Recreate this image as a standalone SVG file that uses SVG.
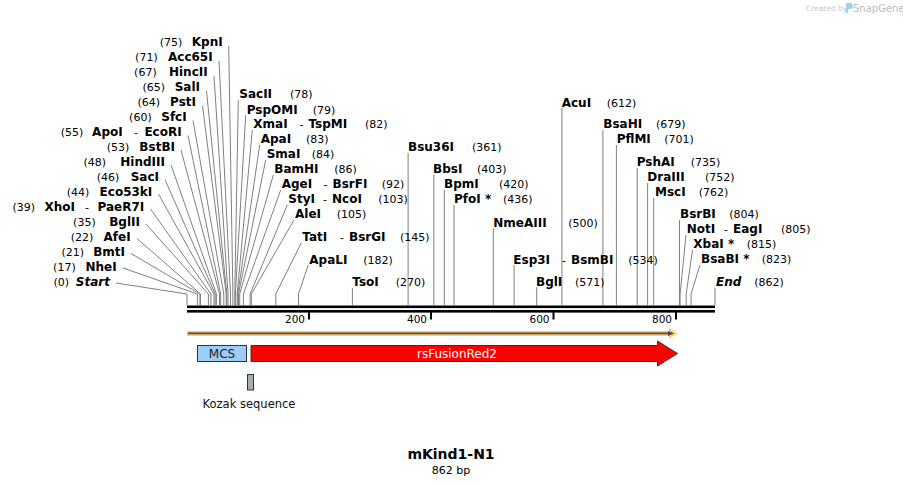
<svg xmlns="http://www.w3.org/2000/svg" width="903" height="485" viewBox="0 0 903 485">
<style>
text{font-family:"DejaVu Sans",Verdana,sans-serif;fill:#000}
.n{font-size:12px;font-weight:bold}
.i{font-size:12px;font-weight:bold;font-style:italic}
.p{font-size:11px}
.e{text-anchor:end}
.t{font-size:10.5px;text-anchor:end}
.c{stroke:#808080;stroke-width:1;fill:none}
</style>
<rect width="903" height="485" fill="#fff"/>
<g id="watermark">
<text x="806" y="11" style="font-size:7.5px;fill:#c4c8cc">Created by</text>
<path d="M846,3 h4 a3,3 0 0 1 0,6 h-2 v4 h-2 z" fill="#9fd0f0"/>
<text x="853" y="12" style="font-size:10px;fill:#b8bcc0">SnapGene</text>
</g>
<g id="connectors">
<polyline class="c" points="228.7,46 232.9,294 232.9,305"/>
<polyline class="c" points="219,61 230.5,294 230.5,305"/>
<polyline class="c" points="214,76 228,294 228,305"/>
<polyline class="c" points="206.5,91 226.8,294 226.8,305"/>
<polyline class="c" points="202.5,105.5 226.2,294 226.2,305"/>
<polyline class="c" points="193,120.5 223.8,294 223.8,305"/>
<polyline class="c" points="188,135.5 220.7,294 220.7,305"/>
<polyline class="c" points="181,150 219.5,294 219.5,305"/>
<polyline class="c" points="171,165 216.4,294 216.4,305"/>
<polyline class="c" points="165,179.5 215.2,294 215.2,305"/>
<polyline class="c" points="158.5,194 214,294 214,305"/>
<polyline class="c" points="150.5,209 210.9,294 210.9,305"/>
<polyline class="c" points="146,224 208.4,294 208.4,305"/>
<polyline class="c" points="137,238.5 200.5,294 200.5,305"/>
<polyline class="c" points="131,253.5 199.9,294 199.9,305"/>
<polyline class="c" points="123,268 197.4,294 197.4,305"/>
<polyline class="c" points="116,283 187,294 187,305"/>
<polyline class="c" points="238.3,100 234.8,294 234.8,305"/>
<polyline class="c" points="245.7,115 235.4,294 235.4,305"/>
<polyline class="c" points="252.3,130 237.2,294 237.2,305"/>
<polyline class="c" points="259.7,145 237.8,294 237.8,305"/>
<polyline class="c" points="265.7,160 238.5,294 238.5,305"/>
<polyline class="c" points="273.3,175 239.7,294 239.7,305"/>
<polyline class="c" points="280.7,190 243.4,294 243.4,305"/>
<polyline class="c" points="287.3,205 250.1,294 250.1,305"/>
<polyline class="c" points="294,220 251.3,294 251.3,305"/>
<polyline class="c" points="301.3,243 275.8,294 275.8,305"/>
<polyline class="c" points="308.3,265 298.5,294 298.5,305"/>
<polyline class="c" points="352.4,288 352.4,305"/>
<polyline class="c" points="408.1,153 408.1,305"/>
<polyline class="c" points="433.8,175 433.8,305"/>
<polyline class="c" points="444.3,190 444.3,305"/>
<polyline class="c" points="454,205 454,305"/>
<polyline class="c" points="493.3,228 493.3,305"/>
<polyline class="c" points="514.1,265 514.1,305"/>
<polyline class="c" points="536.7,287 536.7,305"/>
<polyline class="c" points="561.9,108 561.9,305"/>
<polyline class="c" points="602.9,130 602.9,305"/>
<polyline class="c" points="616.4,145 616.4,305"/>
<polyline class="c" points="637.2,168 637.2,305"/>
<polyline class="c" points="647.6,183 647.6,305"/>
<polyline class="c" points="653.7,198 653.7,305"/>
<polyline class="c" points="679.5,220 679.5,305"/>
<polyline class="c" points="686,235 680.1,294 680.1,305"/>
<polyline class="c" points="692.5,250 686.2,294 686.2,305"/>
<polyline class="c" points="700,265 691.1,294 691.1,305"/>
<polyline class="c" points="715,288 715,305"/>
</g>
<g id="sequence-axis">
<rect x="187" y="305.5" width="528" height="2.6" fill="#000"/>
<rect x="187" y="310" width="528" height="2.6" fill="#000"/>
<rect x="308" y="312" width="2" height="7.5" fill="#000"/>
<rect x="430" y="312" width="2" height="7.5" fill="#000"/>
<rect x="552.5" y="312" width="2" height="7.5" fill="#000"/>
<rect x="675" y="312" width="2" height="7.5" fill="#000"/>
<text class="t" x="305" y="323">200</text>
<text class="t" x="427" y="323">400</text>
<text class="t" x="549.5" y="323">600</text>
<text class="t" x="672" y="323">800</text>
</g>
<g id="orf">
<polygon points="187,331 669,331 669,328 677.5,333.5 669,339 669,336 187,336" fill="#f9cb7e"/>
<polygon points="188,332.5 668,332.5 668,331 674,333.5 668,336 668,334.3 188,334.3" fill="#5a4934"/>
</g>
<g id="MCS">
<rect x="197.5" y="345.5" width="49" height="16" fill="#9dcdfb" stroke="#333" stroke-width="1"/>
<text x="222" y="357.5" style="font-size:12px;text-anchor:middle;fill:#222">MCS</text>
</g>
<g id="rsFusionRed2">
<polygon points="251,345.5 657.5,345.5 657.5,341 677.5,353.5 657.5,366 657.5,361.5 251,361.5" fill="#ff0000" stroke="#333" stroke-width="1"/>
<text x="457" y="357.5" style="font-size:12px;text-anchor:middle;fill:#fff">rsFusionRed2</text>
</g>
<g id="Kozak">
<rect x="247.5" y="374.5" width="6" height="15.5" fill="#a7aeb5" stroke="#333" stroke-width="1"/>
<text x="249" y="408" style="font-size:11.5px;text-anchor:middle;fill:#111">Kozak sequence</text>
</g>
<g id="title">
<text x="451" y="459" style="font-size:14px;font-weight:bold;text-anchor:middle">mKind1-N1</text>
<text x="451" y="474" style="font-size:11px;text-anchor:middle">862 bp</text>
</g>
<g id="left-labels">
<text class="p e" x="182.3" y="46">(75)</text><text class="n e" x="222.7" y="46">KpnI</text>
<text class="p e" x="157.7" y="61">(71)</text><text class="n e" x="212.7" y="61">Acc65I</text>
<text class="p e" x="156.7" y="76">(67)</text><text class="n e" x="207.7" y="76">HincII</text>
<text class="p e" x="165" y="91">(65)</text><text class="n e" x="200" y="91">SalI</text>
<text class="p e" x="160" y="106">(64)</text><text class="n e" x="196" y="106">PstI</text>
<text class="p e" x="151.7" y="121">(60)</text><text class="n e" x="186.7" y="121">SfcI</text>
<text class="p e" x="83.3" y="136">(55)</text><text class="n e" x="122.7" y="136">ApoI</text><text class="p" x="134" y="136">-</text><text class="n e" x="181.7" y="136">EcoRI</text>
<text class="p e" x="129.3" y="151">(53)</text><text class="n e" x="175" y="151">BstBI</text>
<text class="p e" x="106" y="166">(48)</text><text class="n e" x="165" y="166">HindIII</text>
<text class="p e" x="119.3" y="180.5">(46)</text><text class="n e" x="159" y="180.5">SacI</text>
<text class="p e" x="89.3" y="196">(44)</text><text class="n e" x="152.3" y="196">Eco53kI</text>
<text class="p e" x="35" y="211">(39)</text><text class="n e" x="75" y="211">XhoI</text><text class="p" x="85" y="211">-</text><text class="n e" x="144.3" y="211">PaeR7I</text>
<text class="p e" x="95.7" y="226">(35)</text><text class="n e" x="140" y="226">BglII</text>
<text class="p e" x="93.3" y="241">(22)</text><text class="n e" x="130.7" y="241">AfeI</text>
<text class="p e" x="84" y="256">(21)</text><text class="n e" x="125" y="256">BmtI</text>
<text class="p e" x="75.7" y="271">(17)</text><text class="n e" x="116.7" y="271">NheI</text>
<text class="p e" x="69" y="286">(0)</text><text class="i e" x="110" y="286">Start</text>
</g>
<g id="right-labels">
<text class="n" x="239.3" y="98.3">SacII</text><text class="p" x="290" y="98.3">(78)</text>
<text class="n" x="246.7" y="113.6">PspOMI</text><text class="p" x="312.7" y="113.6">(79)</text>
<text class="n" x="253.3" y="128.3">XmaI</text><text class="p" x="299.5" y="128.3">-</text><text class="n" x="308.5" y="128.3">TspMI</text><text class="p" x="365" y="128.3">(82)</text>
<text class="n" x="260.7" y="143.3">ApaI</text><text class="p" x="306" y="143.3">(83)</text>
<text class="n" x="266.7" y="158.3">SmaI</text><text class="p" x="311.7" y="158.3">(84)</text>
<text class="n" x="274.3" y="173.3">BamHI</text><text class="p" x="334.3" y="173.3">(86)</text>
<text class="n" x="281.7" y="188.3">AgeI</text><text class="p" x="323.5" y="188.3">-</text><text class="n" x="332.5" y="188.3">BsrFI</text><text class="p" x="381.7" y="188.3">(92)</text>
<text class="n" x="288.3" y="203.3">StyI</text><text class="p" x="323" y="203.3">-</text><text class="n" x="332" y="203.3">NcoI</text><text class="p" x="378.3" y="203.3">(103)</text>
<text class="n" x="295" y="218.3">AleI</text><text class="p" x="336.7" y="218.3">(105)</text>
<text class="n" x="302.3" y="241">TatI</text><text class="p" x="340" y="241">-</text><text class="n" x="349" y="241">BsrGI</text><text class="p" x="400" y="241">(145)</text>
<text class="n" x="309.3" y="263.6">ApaLI</text><text class="p" x="363.3" y="263.6">(182)</text>
<text class="n" x="352.3" y="286">TsoI</text><text class="p" x="395.7" y="286">(270)</text>
</g>
<g id="middle-labels">
<text class="n" x="408" y="151.3">Bsu36I</text><text class="p" x="472" y="151.3">(361)</text>
<text class="n" x="433" y="173.3">BbsI</text><text class="p" x="477" y="173.3">(403)</text>
<text class="n" x="444" y="188.3">BpmI</text><text class="p" x="499" y="188.3">(420)</text>
<text class="n" x="454" y="203.3">PfoI *</text><text class="p" x="503" y="203.3">(436)</text>
<text class="n" x="493.3" y="227">NmeAIII</text><text class="p" x="568.3" y="227">(500)</text>
<text class="n" x="513.3" y="263.6">Esp3I</text><text class="p" x="562" y="263.6">-</text><text class="n" x="571" y="263.6">BsmBI</text><text class="p" x="628.3" y="263.6">(534)</text>
<text class="n" x="536" y="286">BglI</text><text class="p" x="575" y="286">(571)</text>
<text class="n" x="561.7" y="107">AcuI</text><text class="p" x="606.7" y="107">(612)</text>
<text class="n" x="603.3" y="128.3">BsaHI</text><text class="p" x="656" y="128.3">(679)</text>
<text class="n" x="616.7" y="143.3">PflMI</text><text class="p" x="664.3" y="143.3">(701)</text>
<text class="n" x="636.7" y="166">PshAI</text><text class="p" x="690.7" y="166">(735)</text>
<text class="n" x="647.3" y="181">DraIII</text><text class="p" x="705" y="181">(752)</text>
<text class="n" x="655" y="196">MscI</text><text class="p" x="698.7" y="196">(762)</text>
<text class="n" x="680" y="218.3">BsrBI</text><text class="p" x="729.3" y="218.3">(804)</text>
<text class="n" x="686.7" y="233.3">NotI</text><text class="p" x="724" y="233.3">-</text><text class="n" x="733" y="233.3">EagI</text><text class="p" x="781" y="233.3">(805)</text>
<text class="n" x="693.3" y="248.3">XbaI *</text><text class="p" x="746.7" y="248.3">(815)</text>
<text class="n" x="701" y="263.3">BsaBI *</text><text class="p" x="761.7" y="263.3">(823)</text>
<text class="i" x="716" y="286">End</text><text class="p" x="754.3" y="286">(862)</text>
</g>
</svg>
